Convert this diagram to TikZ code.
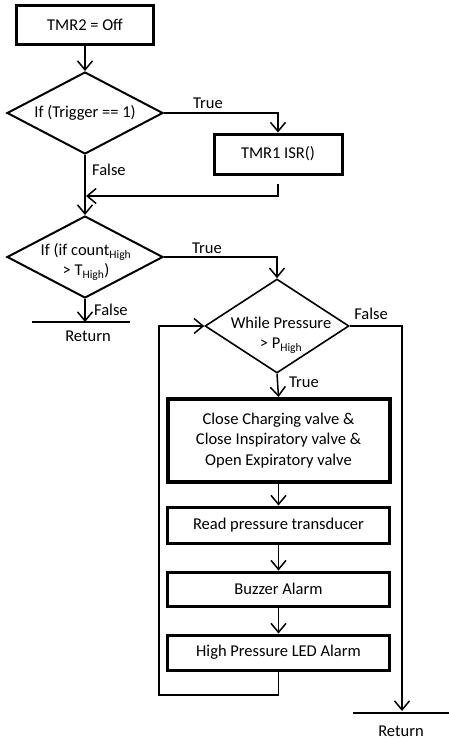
\documentclass[tikz,border=0pt]{standalone}
\usepackage{fontspec}
\setmainfont{Carlito}
\usetikzlibrary{shapes.geometric,arrows.meta,calc}
\begin{document}
\begin{tikzpicture}[x=1pt,y=-1pt,
  every node/.style={font=\fontsize{16.5}{20.5}\selectfont},
  proc/.style={draw, line width=3pt, minimum width=222pt, minimum height=36pt,
    inner sep=0pt, align=center},
  decision/.style={draw, diamond, line width=2pt, inner sep=0pt},
  flow/.style={line width=1.5pt},
  arr/.style={flow, -{Straight Barb[length=9pt,width=15pt,line width=1.5pt]}},
  lbl/.style={inner sep=0pt}]
\useasboundingbox (0,0) rectangle (449,740);

% process boxes and decisions
\node[proc, minimum width=137pt, minimum height=39pt] (tmr2) at (85,24.5) {TMR2 = Off};
\node[decision, minimum width=156pt, minimum height=82pt] (d1) at (85,113) {};
\node (d1t) at (85,113) {If (Trigger == 1)};
\node[proc, minimum width=128pt, minimum height=40pt] (tmr1) at (278,154) {TMR1 ISR()};
\node[decision, minimum width=156pt, minimum height=82pt] (d2) at (85,257) {};
\node[align=center] (d2t) at (86,262) {If (if count\textsubscript{High}\\> T\textsubscript{High})};
\node[decision, line width=1.6pt, minimum width=144pt, minimum height=94pt] (d3) at (277,326) {};
\node[align=center] (d3t) at (281,335) {While Pressure\\> P\textsubscript{High}};
\node[proc, line width=4pt, minimum height=83pt] (close) at (278.5,440.5)
  {Close Charging valve \&\\Close Inspiratory valve \&\\Open Expiratory valve};
\node[proc] (read) at (278.5,525) {Read pressure transducer};
\node[proc, minimum height=34pt] (buzz) at (278.5,589) {Buzzer Alarm};
\node[proc, minimum height=35pt] (hp) at (278.5,652.5) {High Pressure LED Alarm};

% return terminals
\coordinate (r1l) at (32,322);
\coordinate (r1r) at (130,322);
\node (ret1) at (88,336) {Return};
\coordinate (r2l) at (353,713);
\coordinate (r2r) at (449,713);
\coordinate (r2top) at (402,711);
\node (ret2) at (401,731) {Return};

% helper points
\coordinate (join) at (86,196);
\coordinate (loopc) at (159,695);

% connectors
\draw[arr] (tmr2.south) -- (d1.north);
\draw[arr] (d1.east) -| (tmr1.north);
\draw[arr] ($(tmr1.south)+(0,8)$) |- (join);
\draw[arr] (d1.south) -- (d2.north);
\draw[arr] (d2.east) -| (d3.north);
\draw[arr] (d2.south) -- (d2.south |- r1l);
\draw[flow] (r1l) -- (r1r);
\draw[arr] (d3.east) -| (r2top);
\draw[flow] (r2l) -- (r2r);
\draw[arr] (d3.south) -- (close.north);
\draw[arr] (close.south) -- (read.north);
\draw[arr] (read.south) -- (buzz.north);
\draw[arr] (buzz.south) -- (hp.north);
\draw[arr] (hp.south) |- (loopc) |- (d3.west);

% branch labels
\node[lbl] (t1) at (208,103) {True};
\node[lbl, anchor=west] (f1) at (92,170) {False};
\node[lbl] (t2) at (207,248) {True};
\node[lbl, anchor=west] (f2) at (94,310) {False};
\node[lbl] (f3) at (371,314) {False};
\node[lbl, anchor=west] (t3) at (289,382) {True};
\end{tikzpicture}
\end{document}
